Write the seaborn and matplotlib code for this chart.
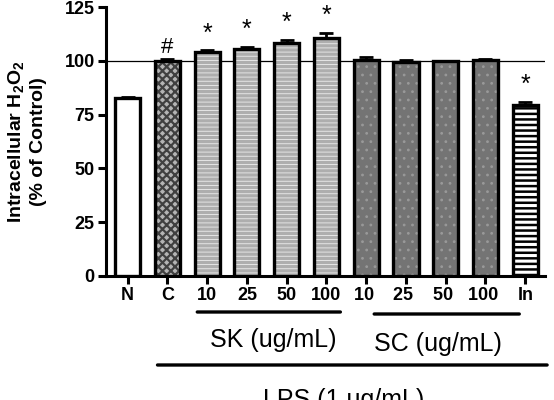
import numpy as np
import pandas as pd
import matplotlib
matplotlib.use("Agg")
import matplotlib.pyplot as plt
import seaborn as sns

# ---- data ----
labels = ["N", "C", "10", "25", "50", "100", "10 ", "25 ", "50 ", "100 ", "In"]
values = [82.5, 100.0, 104.2, 105.5, 108.5, 110.5, 100.3, 99.6, 99.7, 100.2, 79.6]
errors = [0.8, 0.8, 0.6, 0.8, 1.0, 2.3, 1.6, 0.6, 0.4, 0.6, 1.2]
marks = ["", "#", "*", "*", "*", "*", "", "", "", "", "*"]
groups = ["SK (ug/mL)", "SC (ug/mL)"]
lps_label = "LPS (1 ug/mL)"
ylabel = "Intracellular H$_\\mathbf{2}$O$_\\mathbf{2}$\n(% of Control)"
yticks = [0, 25, 50, 75, 100, 125]

sns.set_style("ticks")
plt.rcParams['font.family'] = ['Liberation Sans', 'DejaVu Sans']
plt.rcParams['mathtext.fontset'] = 'custom'
plt.rcParams['mathtext.rm'] = 'Liberation Sans'
plt.rcParams['mathtext.bf'] = 'Liberation Sans:bold'
plt.rcParams['mathtext.it'] = 'Liberation Sans:italic'
plt.rcParams['hatch.linewidth'] = 1.0
for k in ['text.color', 'axes.edgecolor', 'xtick.color', 'ytick.color', 'axes.labelcolor']:
    plt.rcParams[k] = 'black'

df = pd.DataFrame({"label": labels, "value": values})

fig = plt.figure(figsize=(5.54, 4.0), dpi=100)
ax = fig.add_axes([0.191, 0.31, 0.793, 0.6725])

sns.barplot(data=df, x="label", y="value", ax=ax, color="white", width=0.63,
            edgecolor="black", linewidth=2.4, saturation=1, errorbar=None, zorder=3)

styles = (
    [("white", None, None, 1.0)] +
    [("#b4b4b4", "xxxx", (0.25, 0.25, 0.25, 1), 1.6)] +
    [("#aeaeae", "----", (0.93, 0.93, 0.93, 1), 0.6)] * 4 +
    [("#747474", "..", (0.6, 0.6, 0.6, 1), 0.8)] * 4 +
    [("white", "---", (0, 0, 0, 1), 1.8)]
)
for p, (fc, h, hc, hlw) in zip(ax.patches, styles):
    p.set_facecolor(fc)
    if h:
        p.set_hatch(h)
        p._hatch_color = hc
        if hasattr(p, "set_hatch_linewidth"):
            p.set_hatch_linewidth(hlw)
        else:
            p._hatch_linewidth = hlw

x = np.arange(len(labels))
ax.errorbar(x, values, yerr=[np.zeros(len(errors)), errors], fmt="none",
            ecolor="black", elinewidth=2, capsize=5, capthick=2, zorder=4)

ax.axhline(100, color="black", lw=0.9, zorder=2)

for xi, v, e, m in zip(x, values, errors, marks):
    if m == "#":
        ax.annotate(m, xy=(xi, v + e), xytext=(0, 6), textcoords="offset pixels",
                    ha="center", va="baseline", fontsize=16)
    elif m:
        ax.annotate(m, xy=(xi, v + e), xytext=(0, 10), textcoords="offset pixels",
                    ha="center", va="baseline", fontsize=18)

ax.set_xlim(-0.55, 10.5)
ax.set_ylim(0, 125)
ax.set_yticks(yticks)
ax.set_xlabel("")
ax.set_ylabel(ylabel, fontsize=14, fontweight="bold", linespacing=1.25)
ax.yaxis.set_label_coords(-0.135, 0.5)
for sp in ["top", "right"]:
    ax.spines[sp].set_visible(False)
for sp in ["left", "bottom"]:
    ax.spines[sp].set_linewidth(2.2)
ax.tick_params(axis="both", width=2.2, length=6, labelsize=13, pad=2)
for t in ax.get_xticklabels() + ax.get_yticklabels():
    t.set_fontweight("bold")

def ypos(py):
    return (400 - py) / 400.0

for (a, b, cx), g, yy, ty in zip([(1.75, 5.35, 3.66), (6.2, 9.85, 7.8)], groups, [312, 314], [340, 344]):
    ax.annotate("", xy=(a, ypos(yy)), xytext=(b, ypos(yy)), xycoords=("data", "figure fraction"),
                arrowprops=dict(arrowstyle="-", lw=2.4, color="black", shrinkA=0, shrinkB=0))
    ax.annotate(g, xy=(cx, ypos(ty)), xycoords=("data", "figure fraction"),
                ha="center", va="center", fontsize=18)
ax.annotate("", xy=(0.75, ypos(365)), xytext=(10.55, ypos(365)), xycoords=("data", "figure fraction"),
            arrowprops=dict(arrowstyle="-", lw=2.4, color="black", shrinkA=0, shrinkB=0),
            annotation_clip=False)
ax.annotate(lps_label, xy=(5.42, ypos(388)), xycoords=("data", "figure fraction"),
            ha="center", va="top", fontsize=18, annotation_clip=False)

fig.savefig("out.png", dpi=100)
